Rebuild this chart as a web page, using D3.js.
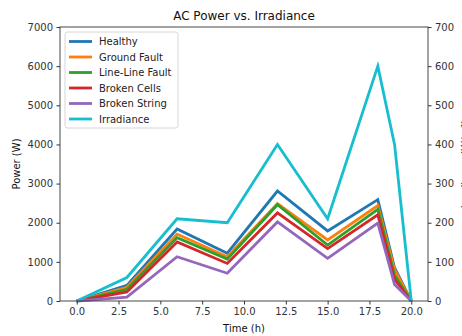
<!DOCTYPE html>
<html><head><meta charset="utf-8">
<script src="https://cdn.jsdelivr.net/npm/d3@7"></script>
<style>body{margin:0;background:#fff}svg{display:block;font-family:"DejaVu Sans",sans-serif}</style>
</head><body><svg id="c" width="462" height="336"></svg>
<script>
const time = [0, 3, 6, 9, 12, 15, 18, 19, 20];
const healthy = [0, 400, 1840, 1220, 2810, 1790, 2590, 850, 0];
const groundFault = [0, 350, 1710, 1130, 2490, 1560, 2440, 800, 0];
const lineLineFault = [0, 300, 1620, 1070, 2460, 1430, 2340, 660, 0];
const brokenCells = [0, 230, 1510, 960, 2250, 1340, 2200, 550, 0];
const brokenString = [0, 100, 1130, 710, 2020, 1090, 1990, 420, 0];
const irradiance = [0, 60, 210, 200, 400, 210, 600, 400, 0];
const seriesNames = ["Healthy", "Ground Fault", "Line-Line Fault", "Broken Cells", "Broken String", "Irradiance"];
const colors = ["#1f77b4", "#ff7f0e", "#2ca02c", "#d62728", "#9467bd", "#17becf"];
const xTicks = [0, 2.5, 5, 7.5, 10, 12.5, 15, 17.5, 20];
const yTicks = [0, 1000, 2000, 3000, 4000, 5000, 6000, 7000];
const y2Ticks = [0, 100, 200, 300, 400, 500, 600, 700];

const svg = d3.select("#c");
const L = 60, R = 428, T = 27, B = 301;
const x = d3.scaleLinear().domain([-1, 21]).range([L, R]);
const y = d3.scaleLinear().domain([0, 7000]).range([B, T]);
const y2 = d3.scaleLinear().domain([0, 700]).range([B, T]);

const powerSeries = [healthy, groundFault, lineLineFault, brokenCells, brokenString];
const line = d3.line().x((d, i) => x(time[i])).y(d => y(d));
const line2 = d3.line().x((d, i) => x(time[i])).y(d => y2(d));

powerSeries.forEach((s, k) => {
  svg.append("path").attr("d", line(s)).attr("fill", "none")
    .attr("stroke", colors[k]).attr("stroke-width", 2.8).attr("stroke-linejoin", "miter");
});
svg.append("path").attr("d", line2(irradiance)).attr("fill", "none")
  .attr("stroke", colors[5]).attr("stroke-width", 2.8);

const tickColor = "#333";
const fs = 10;
const xa = svg.append("g").attr("transform", `translate(0,${B})`)
  .call(d3.axisBottom(x).tickValues(xTicks).tickFormat(d3.format(".1f")).tickSize(3.5).tickPadding(3.5));
const ya = svg.append("g").attr("transform", `translate(${L},0)`)
  .call(d3.axisLeft(y).tickValues(yTicks).tickFormat(d => d).tickSize(3.5).tickPadding(3.5));
const ya2 = svg.append("g").attr("transform", `translate(${R},0)`)
  .call(d3.axisRight(y2).tickValues(y2Ticks).tickFormat(d => d).tickSize(3.5).tickPadding(3.5));
[xa, ya, ya2].forEach(g => {
  g.select(".domain").remove();
  g.selectAll("text").attr("font-size", fs).attr("fill", tickColor).attr("font-family", "DejaVu Sans");
  g.selectAll("line").attr("stroke", tickColor);
});
svg.append("rect").attr("x", L).attr("y", T).attr("width", R - L).attr("height", B - T)
  .attr("fill", "none").attr("stroke", tickColor).attr("stroke-width", 0.9);

svg.append("text").attr("x", (L + R) / 2).attr("y", 20).attr("text-anchor", "middle")
  .attr("font-size", 12).attr("fill", "#111").text("AC Power vs. Irradiance");
svg.append("text").attr("x", (L + R) / 2).attr("y", 332).attr("text-anchor", "middle")
  .attr("font-size", 10).attr("fill", "#111").text("Time (h)");
svg.append("text").attr("transform", `translate(20,${(T + B) / 2}) rotate(-90)`).attr("text-anchor", "middle")
  .attr("font-size", 10).attr("fill", "#111").text("Power (W)");
svg.append("text").attr("transform", `translate(469,${(T + B) / 2}) rotate(-90)`).attr("text-anchor", "middle")
  .attr("font-size", 10).attr("fill", "#111").text("Irradiance (W/m²)");

const lg = svg.append("g").attr("transform", "translate(65,32)");
lg.append("rect").attr("width", 113).attr("height", 96).attr("rx", 2.5)
  .attr("fill", "#fff").attr("fill-opacity", 0.8).attr("stroke", "#ccc").attr("stroke-width", 0.8);
seriesNames.forEach((n, i) => {
  const yy = 9.5 + i * 15.5;
  lg.append("line").attr("x1", 4).attr("x2", 27).attr("y1", yy).attr("y2", yy)
    .attr("stroke", colors[i]).attr("stroke-width", 2.8);
  lg.append("text").attr("x", 34).attr("y", yy + 3.5).attr("font-size", 10).attr("fill", "#222").text(n);
});
</script></body></html>
